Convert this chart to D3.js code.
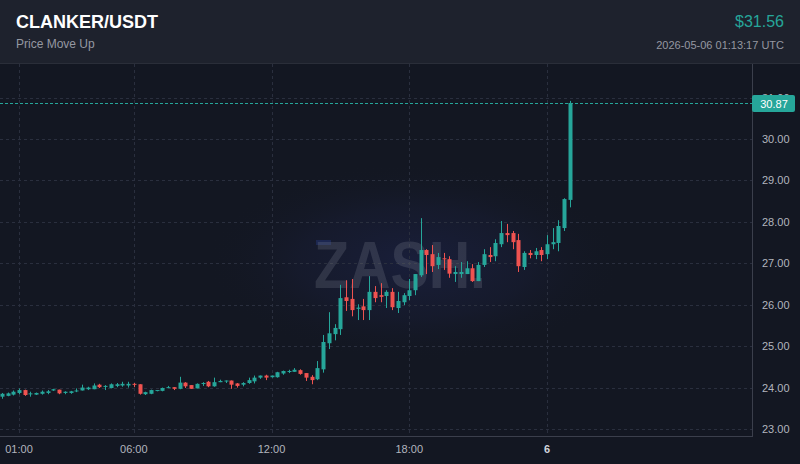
<!DOCTYPE html>
<html>
<head>
<meta charset="utf-8">
<script src="https://cdn.jsdelivr.net/npm/d3@7/dist/d3.min.js"></script>
<style>
  html, body { margin: 0; padding: 0; background: #131722; }
  svg { display: block; font-family: "Liberation Sans", Arial, sans-serif; }
</style>
</head>
<body>
<svg width="800" height="464"></svg>
<script>
// 15 minute candles, first one opens 2026-05-05 00:15 UTC
const startTime = Date.UTC(2026, 4, 5, 0, 15);
const stepMs = 15 * 60 * 1000;

const opens = [
  23.78, 23.80, 23.83, 23.87, 23.94, 23.84, 23.83, 23.85, 23.87, 23.93,
  23.95, 23.87, 23.87, 23.91, 23.93, 23.96, 23.96, 24.07, 24.02, 23.99,
  24.04, 24.05, 24.05, 24.09, 24.08, 23.84, 23.85, 23.92, 23.92, 23.99,
  24.01, 23.97, 24.12, 24.06, 23.98, 24.09, 24.14, 24.03, 24.13, 24.15,
  24.17, 24.10, 24.07, 24.11, 24.15, 24.24, 24.29, 24.25, 24.25, 24.34,
  24.38, 24.38, 24.42, 24.35, 24.26, 24.20, 24.44, 25.07, 25.29, 25.41,
  26.18, 26.14, 25.90, 25.96, 25.87, 26.31, 26.23, 26.21, 26.31, 25.92,
  26.06, 26.21, 26.35, 26.71, 27.32, 27.22, 26.96, 27.12, 27.10, 26.74,
  26.74, 26.74, 26.88, 26.57, 26.96, 27.20, 27.17, 27.46, 27.73, 27.73,
  27.56, 26.91, 27.25, 27.20, 27.32, 27.22, 27.46, 27.49, 27.85, 28.53
];
const highs = [
  23.87, 23.88, 23.93, 23.98, 23.95, 23.90, 23.88, 23.93, 23.94, 23.97,
  23.95, 23.91, 23.92, 23.98, 24.07, 24.02, 24.10, 24.09, 24.06, 24.10,
  24.11, 24.14, 24.14, 24.11, 24.08, 23.90, 23.95, 23.94, 24.00, 24.04,
  24.01, 24.26, 24.13, 24.06, 24.10, 24.13, 24.16, 24.24, 24.19, 24.17,
  24.17, 24.11, 24.13, 24.24, 24.29, 24.29, 24.31, 24.29, 24.38, 24.41,
  24.43, 24.47, 24.44, 24.35, 24.30, 24.64, 25.27, 25.82, 25.53, 26.48,
  26.59, 26.62, 26.01, 26.14, 26.69, 26.45, 26.52, 26.35, 26.40, 26.31,
  26.28, 26.62, 26.74, 28.09, 27.34, 27.44, 27.25, 27.25, 27.17, 26.93,
  27.03, 27.05, 26.98, 27.03, 27.34, 27.39, 27.58, 28.02, 27.95, 27.78,
  27.71, 27.29, 27.32, 27.37, 27.39, 27.68, 27.85, 28.04, 28.57, 30.92
];
const lows = [
  23.73, 23.79, 23.81, 23.84, 23.80, 23.78, 23.82, 23.83, 23.84, 23.92,
  23.84, 23.84, 23.85, 23.89, 23.93, 23.94, 23.96, 23.99, 23.94, 23.98,
  24.01, 24.02, 24.00, 24.01, 23.83, 23.82, 23.84, 23.91, 23.91, 23.99,
  23.94, 23.96, 23.99, 23.97, 23.98, 24.04, 24.01, 24.02, 24.13, 24.11,
  23.97, 24.00, 24.03, 24.09, 24.10, 24.21, 24.18, 24.24, 24.24, 24.31,
  24.35, 24.38, 24.31, 24.16, 24.08, 24.18, 24.36, 24.93, 25.14, 25.27,
  25.85, 25.72, 25.63, 25.63, 25.63, 26.06, 26.06, 25.92, 25.87, 25.80,
  25.99, 26.11, 26.23, 26.67, 26.74, 26.79, 26.86, 26.84, 26.65, 26.55,
  26.65, 26.74, 26.55, 26.57, 26.91, 27.03, 27.05, 27.39, 27.51, 27.34,
  26.79, 26.84, 27.12, 27.10, 27.05, 27.10, 27.34, 27.29, 27.78, 28.35
];
const closes = [
  23.85, 23.86, 23.90, 23.94, 23.82, 23.86, 23.87, 23.90, 23.91, 23.96,
  23.86, 23.90, 23.91, 23.93, 24.00, 24.00, 24.05, 24.01, 24.04, 24.08,
  24.08, 24.09, 24.09, 24.07, 23.85, 23.89, 23.94, 23.94, 23.99, 24.01,
  23.97, 24.12, 24.03, 23.97, 24.09, 24.11, 24.03, 24.13, 24.16, 24.17,
  24.07, 24.04, 24.11, 24.18, 24.24, 24.29, 24.24, 24.29, 24.37, 24.40,
  24.40, 24.43, 24.33, 24.24, 24.18, 24.47, 25.10, 25.31, 25.44, 26.16,
  26.09, 25.87, 25.93, 25.87, 26.31, 26.16, 26.19, 26.31, 25.94, 26.09,
  26.23, 26.35, 26.74, 27.32, 27.20, 26.93, 27.15, 27.10, 26.75, 26.79,
  26.79, 26.88, 26.57, 26.96, 27.22, 27.15, 27.49, 27.73, 27.68, 27.51,
  26.93, 27.25, 27.20, 27.29, 27.20, 27.46, 27.51, 27.90, 28.55, 30.87
];

const priceTicks = [23, 24, 25, 26, 27, 28, 29, 30, 31];
const timeTicks = [
  { t: Date.UTC(2026, 4, 5, 1), label: '01:00', bold: false },
  { t: Date.UTC(2026, 4, 5, 6), label: '06:00', bold: false },
  { t: Date.UTC(2026, 4, 5, 12), label: '12:00', bold: false },
  { t: Date.UTC(2026, 4, 5, 18), label: '18:00', bold: false },
  { t: Date.UTC(2026, 4, 6, 0), label: '6', bold: true }
];
const lastPrice = 30.87;

const UP = '#26a69a';
const DOWN = '#ef5350';

const svg = d3.select('svg');
const width = +svg.attr('width');
const height = +svg.attr('height');

const plot = { left: 0, right: 752, top: 64, bottom: 436 };

const candles = opens.map((o, i) => ({
  t: new Date(startTime + i * stepMs),
  o: o, h: highs[i], l: lows[i], c: closes[i]
}));

// x: 01:00 sits at 19px, midnight at 547px
const x = d3.scaleUtc()
  .domain([new Date(timeTicks[0].t), new Date(timeTicks[4].t)])
  .range([19, 547]);
const y = d3.scaleLinear().domain([23, 30]).range([429, 139]);

// backgrounds
svg.append('rect').attr('width', width).attr('height', height).attr('fill', '#131722');

const defs = svg.append('defs');
const glow = defs.append('radialGradient').attr('id', 'glow');
glow.append('stop').attr('offset', '0%').attr('stop-color', '#1b2143').attr('stop-opacity', 0.75);
glow.append('stop').attr('offset', '55%').attr('stop-color', '#191e38').attr('stop-opacity', 0.45);
glow.append('stop').attr('offset', '100%').attr('stop-color', '#131722').attr('stop-opacity', 0);

svg.append('ellipse')
  .attr('cx', 415).attr('cy', 262)
  .attr('rx', 210).attr('ry', 100)
  .attr('fill', 'url(#glow)');

// grid
const grid = svg.append('g').attr('class', 'grid');
grid.selectAll('line.h')
  .data(priceTicks)
  .enter()
  .append('line')
  .attr('class', 'h')
  .attr('x1', plot.left).attr('x2', plot.right)
  .attr('y1', d => Math.round(y(d)) + 0.5)
  .attr('y2', d => Math.round(y(d)) + 0.5)
  .attr('stroke', '#2a2f3e')
  .attr('stroke-dasharray', '3,3');
grid.selectAll('line.v')
  .data(timeTicks)
  .enter()
  .append('line')
  .attr('class', 'v')
  .attr('x1', d => Math.round(x(d.t)) + 0.5)
  .attr('x2', d => Math.round(x(d.t)) + 0.5)
  .attr('y1', plot.top).attr('y2', plot.bottom)
  .attr('stroke', '#2a2f3e')
  .attr('stroke-dasharray', '3,3');

// watermark
svg.append('rect')
  .attr('x', 316).attr('y', 240).attr('width', 15).attr('height', 5)
  .attr('fill', '#1e2a5a').attr('opacity', 0.8);
svg.append('text')
  .attr('x', 314).attr('y', 288)
  .attr('font-size', 66)
  .attr('font-weight', 'bold')
  .attr('textLength', 172)
  .attr('lengthAdjust', 'spacingAndGlyphs')
  .attr('fill', '#8a8f9c')
  .attr('opacity', 0.22)
  .text('ZASH.');

// candles
const bodyW = 4;
const cg = svg.append('g')
  .attr('class', 'candles')
  .selectAll('g')
  .data(candles)
  .enter()
  .append('g')
  .each(function(d) {
    const gg = d3.select(this);
    const cx = Math.round(x(d.t));
    const col = d.c >= d.o ? UP : DOWN;
    gg.append('line')
      .attr('x1', cx + 0.5).attr('x2', cx + 0.5)
      .attr('y1', y(d.h)).attr('y2', y(d.l))
      .attr('stroke', col)
      .attr('stroke-width', 1);
    const top = y(Math.max(d.o, d.c));
    const bot = y(Math.min(d.o, d.c));
    gg.append('rect')
      .attr('x', cx + 0.5 - bodyW / 2)
      .attr('y', top)
      .attr('width', bodyW)
      .attr('height', Math.max(1, bot - top))
      .attr('fill', col);
  });

// last price line
svg.append('line')
  .attr('x1', plot.left).attr('x2', plot.right)
  .attr('y1', Math.round(y(lastPrice)) + 0.5)
  .attr('y2', Math.round(y(lastPrice)) + 0.5)
  .attr('stroke', UP)
  .attr('stroke-dasharray', '3,2');

// axis frame
svg.append('line')
  .attr('x1', plot.right + 0.5).attr('x2', plot.right + 0.5)
  .attr('y1', plot.top).attr('y2', plot.bottom + 1)
  .attr('stroke', '#3b3f4c');
svg.append('line')
  .attr('x1', 0).attr('x2', plot.right)
  .attr('y1', plot.bottom + 0.5).attr('y2', plot.bottom + 0.5)
  .attr('stroke', '#3b3f4c');

// price axis labels (31.00 sits under the last price tag, as in the source)
svg.append('g')
  .selectAll('text')
  .data(priceTicks)
  .enter()
  .append('text')
  .attr('x', 762)
  .attr('y', d => y(d) + 4)
  .attr('font-size', 11)
  .attr('fill', '#b2b5be')
  .text(d => d.toFixed(2));

// time axis labels
svg.append('g')
  .selectAll('text')
  .data(timeTicks)
  .enter()
  .append('text')
  .attr('x', d => x(d.t))
  .attr('y', 453)
  .attr('text-anchor', 'middle')
  .attr('font-size', 11)
  .attr('font-weight', d => d.bold ? 'bold' : 'normal')
  .attr('fill', d => d.bold ? '#d1d4dc' : '#b2b5be')
  .text(d => d.label);

// last price tag
svg.append('rect')
  .attr('x', 752).attr('y', Math.round(y(lastPrice)) - 8)
  .attr('width', 43).attr('height', 17)
  .attr('rx', 2)
  .attr('fill', UP);
svg.append('text')
  .attr('x', 774).attr('y', Math.round(y(lastPrice)) + 4.5)
  .attr('text-anchor', 'middle')
  .attr('font-size', 11)
  .attr('fill', '#ffffff')
  .text(lastPrice.toFixed(2));

// header
const header = svg.append('g').attr('class', 'header');
header.append('rect').attr('width', width).attr('height', 63).attr('fill', '#1e222d');
header.append('line')
  .attr('x1', 0).attr('x2', width)
  .attr('y1', 63.5).attr('y2', 63.5)
  .attr('stroke', '#2a2e39');
header.append('text')
  .attr('x', 16).attr('y', 28)
  .attr('font-size', 18).attr('font-weight', 'bold')
  .attr('fill', '#ffffff')
  .text('CLANKER/USDT');
header.append('text')
  .attr('x', 16).attr('y', 48)
  .attr('font-size', 12)
  .attr('fill', '#9598a1')
  .text('Price Move Up');
header.append('text')
  .attr('x', 784).attr('y', 27)
  .attr('text-anchor', 'end')
  .attr('font-size', 16)
  .attr('fill', UP)
  .text('$31.56');
header.append('text')
  .attr('x', 784).attr('y', 49)
  .attr('text-anchor', 'end')
  .attr('font-size', 11)
  .attr('fill', '#9598a1')
  .text('2026-05-06 01:13:17 UTC');
</script>
</body>
</html>
